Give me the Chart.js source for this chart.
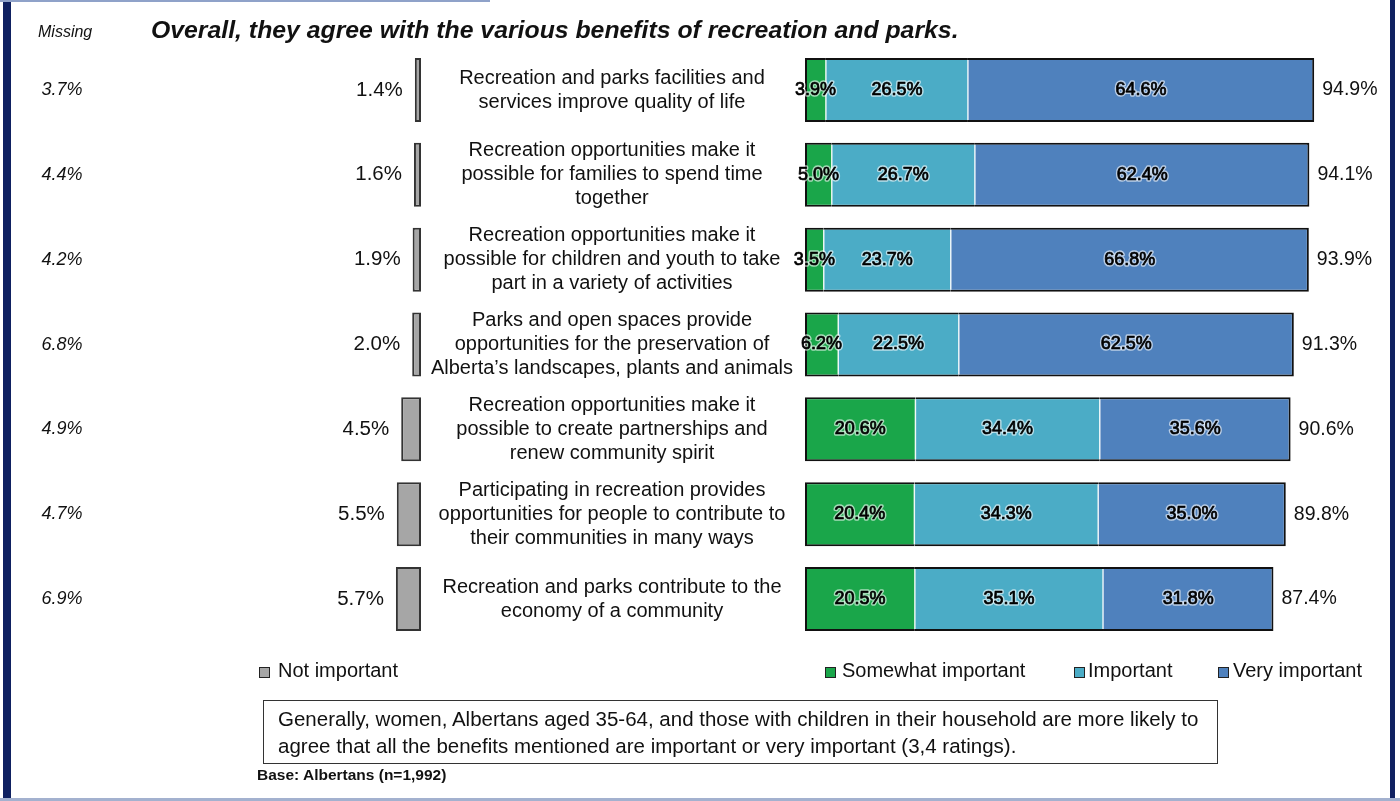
<!DOCTYPE html>
<html>
<head>
<meta charset="utf-8">
<script src="https://cdn.jsdelivr.net/npm/chart.js@4/dist/chart.umd.min.js"></script>
<style>
	html, body {
		margin: 0;
		padding: 0;
		background: #fff;
		font-family: "Liberation Sans", Arial, sans-serif;
		color: #111;
	}
	#wrap {
		position: relative;
		width: 1400px;
		height: 801px;
		overflow: hidden;
	}
	#chartBox {
		position: absolute;
		left: 0;
		top: 0;
		width: 1400px;
		height: 801px;
	}
	.abs { position: absolute; white-space: nowrap; }
	.frameL { left: 3px; top: 0; width: 8px; height: 801px; background: #0f2161; }
	.frameR { left: 1390px; top: 0; width: 5px; height: 801px; background: #0f2161; }
	.frameT { left: 0; top: 0; width: 490px; height: 2px; background: #8fa2c9; }
	.frameB { left: 0; top: 798px; width: 1400px; height: 3px; background: #a3b1cf; }
	#title { left: 151px; top: 16px; font-size: 24.8px; font-weight: bold; font-style: italic; }
	#missingHead { left: 38px; top: 23px; font-size: 16px; font-style: italic; }
	.leg { top: 659px; font-size: 20px; }
	.sw {
		position: absolute;
		width: 9px;
		height: 9px;
		border: 1.5px solid #222;
	}
	#note {
		left: 263px;
		top: 700px;
		width: 955px;
		height: 64px;
		box-sizing: border-box;
		border: 1.5px solid #333;
		padding: 4px 0 0 14px;
		font-size: 20.5px;
		line-height: 27px;
	}
	#base { left: 257px; top: 766px; font-size: 15.5px; font-weight: bold; }
</style>
</head>
<body>
<div id="wrap">
	<div id="chartBox"><canvas id="myChart"></canvas></div>
	<div class="abs frameL"></div>
	<div class="abs frameR"></div>
	<div class="abs frameT"></div>
	<div class="abs frameB"></div>
	<div class="abs" id="missingHead">Missing</div>
	<div class="abs" id="title">Overall, they agree with the various benefits of recreation and parks.</div>

	<div class="abs leg" style="left:259px"><span class="sw" style="left:0;top:8px;background:#a6a6a6"></span><span style="margin-left:19px">Not important</span></div>
	<div class="abs leg" style="left:825px"><span class="sw" style="left:0;top:8px;background:#1aa64a"></span><span style="margin-left:17px">Somewhat important</span></div>
	<div class="abs leg" style="left:1074px"><span class="sw" style="left:0;top:8px;background:#4bacc6"></span><span style="margin-left:14px">Important</span></div>
	<div class="abs leg" style="left:1218px"><span class="sw" style="left:0;top:8px;background:#4f81bd"></span><span style="margin-left:15px">Very important</span></div>

	<div class="abs" id="note">Generally, women, Albertans aged 35-64, and those with children in their household are more likely to<br>agree that all the benefits mentioned are important or very important (3,4 ratings).</div>
	<div class="abs" id="base">Base: Albertans (n=1,992)</div>
</div>

<script>
// Values
const categories = [
	["Recreation and parks facilities and", "services improve quality of life"],
	["Recreation opportunities make it", "possible for families to spend time", "together"],
	["Recreation opportunities make it", "possible for children and youth to take", "part in a variety of activities"],
	["Parks and open spaces provide", "opportunities for the preservation of", "Alberta\u2019s landscapes, plants and animals"],
	["Recreation opportunities make it", "possible to create partnerships and", "renew community spirit"],
	["Participating in recreation provides", "opportunities for people to contribute to", "their communities in many ways"],
	["Recreation and parks contribute to the", "economy of a community"],
];
const missing = [3.7, 4.4, 4.2, 6.8, 4.9, 4.7, 6.9];
const notImportant = [1.4, 1.6, 1.9, 2.0, 4.5, 5.5, 5.7];
const somewhatImportant = [3.9, 5.0, 3.5, 6.2, 20.6, 20.4, 20.5];
const important = [26.5, 26.7, 23.7, 22.5, 34.4, 34.3, 35.1];
const veryImportant = [64.6, 62.4, 66.8, 62.5, 35.6, 35.0, 31.8];
const totals = [94.9, 94.1, 93.9, 91.3, 90.6, 89.8, 87.4];

const FONT = '"Liberation Sans", Arial, sans-serif';
const fmt = (v) => v.toFixed(1) + "%";

// draws the row texts: missing, labels, segment values, totals
const rowText = {
	id: "rowText",
	afterDatasetsDraw(chart) {
		const ctx = chart.ctx;
		const y = chart.scales.y;
		const metaNot = chart.getDatasetMeta(0);
		const metaVery = chart.getDatasetMeta(3);
		ctx.save();
		ctx.textBaseline = "middle";

		// white separators between the stacked segments
		[2, 3].forEach((d) => {
			chart.getDatasetMeta(d).data.forEach((bar) => {
				ctx.strokeStyle = "rgba(255,255,255,0.85)";
				ctx.lineWidth = 1.5;
				ctx.beginPath();
				ctx.moveTo(bar.base, bar.y - bar.height / 2 + 2);
				ctx.lineTo(bar.base, bar.y + bar.height / 2 - 2);
				ctx.stroke();
			});
		});

		categories.forEach((lines, i) => {
			const cy = y.getPixelForValue(i);
			ctx.fillStyle = "#111";

			ctx.font = "italic 18px " + FONT;
			ctx.textAlign = "center";
			ctx.fillText(fmt(missing[i]), 62, cy);

			ctx.font = "20.5px " + FONT;
			ctx.textAlign = "right";
			const notBar = metaNot.data[i];
			ctx.fillText(fmt(notImportant[i]), Math.min(notBar.x, notBar.base) - 12, cy);

			ctx.font = "20px " + FONT;
			ctx.textAlign = "center";
			lines.forEach((t, k) => {
				ctx.fillText(t, 612, cy + (k - (lines.length - 1) / 2) * 24);
			});

			ctx.font = "19.5px " + FONT;
			ctx.textAlign = "left";
			ctx.fillText(fmt(totals[i]), metaVery.data[i].x + 8, cy);
		});

		// values inside the stacked bars, dark text with a light halo
		ctx.font = "18px " + FONT;
		ctx.textAlign = "center";
		ctx.lineJoin = "round";
		[1, 2, 3].forEach((d) => {
			const vals = chart.data.datasets[d].data;
			chart.getDatasetMeta(d).data.forEach((bar, i) => {
				const cx = (bar.x + bar.base) / 2;
				const t = fmt(vals[i]);
				ctx.strokeStyle = "rgba(255,255,255,0.6)";
				ctx.lineWidth = 3.5;
				ctx.strokeText(t, cx, bar.y);
				ctx.fillStyle = "#000";
				ctx.fillText(t, cx, bar.y);
				ctx.strokeStyle = "#000";
				ctx.lineWidth = 0.7;
				ctx.strokeText(t, cx, bar.y);
			});
		});
		ctx.restore();
	},
};

const edge = 2;
const ctx = document.getElementById("myChart").getContext("2d");
const myChart = new Chart(ctx, {
	type: "bar",
	data: {
		labels: categories,
		datasets: [
			{
				label: "Not important",
				data: notImportant,
				xAxisID: "xL",
				stack: "left",
				backgroundColor: "#a6a6a6",
				borderColor: "#333",
				borderWidth: 2,
				borderSkipped: false,
			},
			{
				label: "Somewhat important",
				data: somewhatImportant,
				xAxisID: "xR",
				stack: "right",
				backgroundColor: "#1aa64a",
				borderColor: "#111",
				borderWidth: { top: edge, bottom: edge, left: edge, right: 0 },
				borderSkipped: false,
			},
			{
				label: "Important",
				data: important,
				xAxisID: "xR",
				stack: "right",
				backgroundColor: "#4bacc6",
				borderColor: "#111",
				borderWidth: { top: edge, bottom: edge, left: 0, right: 0 },
				borderSkipped: false,
			},
			{
				label: "Very important",
				data: veryImportant,
				xAxisID: "xR",
				stack: "right",
				backgroundColor: "#4f81bd",
				borderColor: "#111",
				borderWidth: { top: edge, bottom: edge, left: 0, right: edge },
				borderSkipped: false,
			},
		],
	},
	options: {
		indexAxis: "y",
		responsive: true,
		maintainAspectRatio: false,
		animation: false,
		datasets: {
			bar: {
				grouped: false,
				categoryPercentage: 1,
				barPercentage: 0.755,
			},
		},
		layout: {
			padding: { left: 0, right: 0, top: 47.6, bottom: 159.6 },
		},
		plugins: {
			legend: { display: false },
			tooltip: { enabled: false },
		},
		scales: {
			y: { type: "category", display: false, offset: true },
			// right block: 0 sits at x=805, about 5.36 px per percent
			xR: {
				type: "linear",
				display: false,
				stacked: true,
				min: -805 / 5.36,
				max: 595 / 5.36,
			},
			// left block grows leftward from x=421, about 4.4 px per percent
			xL: {
				type: "linear",
				display: false,
				stacked: true,
				reverse: true,
				min: -979 / 4.4,
				max: 421 / 4.4,
			},
		},
	},
	plugins: [rowText],
});
</script>
</body>
</html>
